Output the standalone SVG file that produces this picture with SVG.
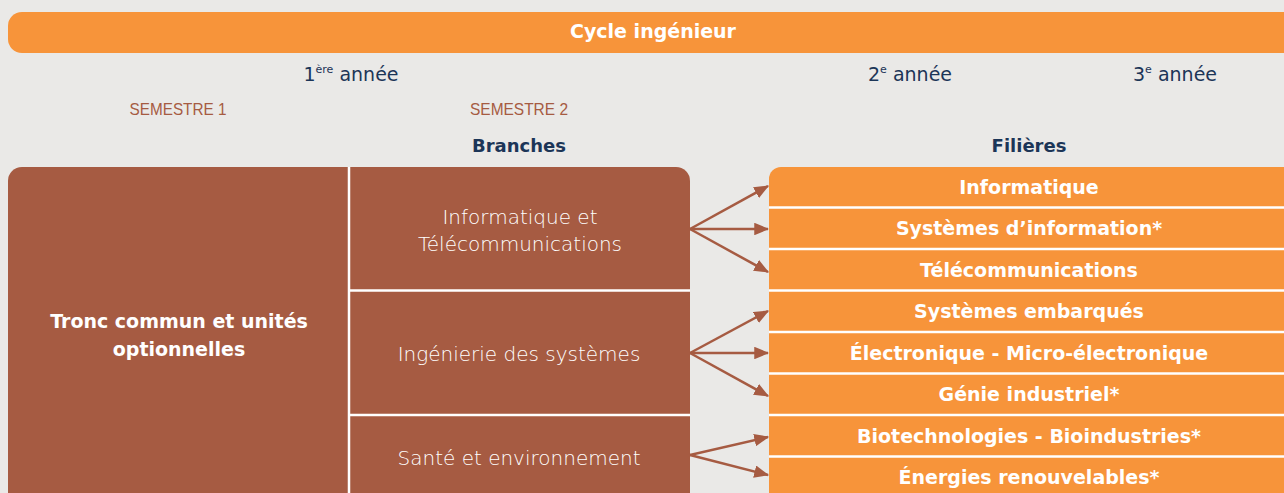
<svg xmlns="http://www.w3.org/2000/svg" width="1284" height="493" viewBox="0 0 1284 493">
<style>
.bg{fill:#EAE9E7}
.or{fill:#F7943A}
.br{fill:#A65B42}
.wl{stroke:#FFFFFF;stroke-width:2.5}
.t{font-family:"DejaVu Sans","Liberation Sans",Arial,sans-serif}
.wb{font-weight:bold;fill:#FFFFFF;font-size:19px;text-anchor:middle}
.wn{fill:#FFFFFF;font-size:20px;font-weight:300;text-anchor:middle}
.nv{fill:#1C3557;text-anchor:middle}
.sem{fill:#A65B42;font-size:17px;text-anchor:middle;font-family:"Liberation Sans",Arial,sans-serif}
.arr{stroke:#A65B42;stroke-width:2.5;fill:none;marker-end:url(#ah)}
</style>
<defs>
<marker id="ah" markerWidth="6" markerHeight="5" refX="5.5" refY="2.5" orient="auto" markerUnits="strokeWidth">
<path d="M0,0 L6,2.5 L0,5 Z" fill="#A65B42"/>
</marker>
</defs>
<rect class="bg" x="0" y="0" width="1284" height="493"/>

<g id="cycle">
<rect class="or" x="8" y="12" width="1300" height="41" rx="14"/>
<text class="t wb" x="653" y="38">Cycle ingénieur</text>
</g>

<g id="headers">
<text class="t nv" x="351" y="81" font-size="19">1<tspan font-size="11" dy="-8">ère</tspan><tspan dy="8"> année</tspan></text>
<text class="t nv" x="910" y="81" font-size="19">2<tspan font-size="11" dy="-8">e</tspan><tspan dy="8"> année</tspan></text>
<text class="t nv" x="1175" y="81" font-size="19">3<tspan font-size="11" dy="-8">e</tspan><tspan dy="8"> année</tspan></text>
<text class="sem" x="178" y="115" textLength="97" lengthAdjust="spacingAndGlyphs">SEMESTRE 1</text>
<text class="sem" x="519" y="115" textLength="98" lengthAdjust="spacingAndGlyphs">SEMESTRE 2</text>
<text class="t nv" x="519" y="152" font-size="18" font-weight="bold">Branches</text>
<text class="t nv" x="1029" y="152" font-size="18" font-weight="bold">Filières</text>
</g>

<g id="tronc">
<rect class="br" x="8" y="167" width="682" height="340" rx="14"/>
<text class="t wb" x="179" y="328">Tronc commun et unités</text>
<text class="t wb" x="179" y="356">optionnelles</text>
<line class="wl" x1="349" y1="167" x2="349" y2="493"/>
</g>

<g id="branche-info">
<text class="t wn" x="520" y="224">Informatique et</text>
<text class="t wn" x="520" y="251">Télécommunications</text>
</g>
<g id="branche-sys">
<line class="wl" x1="349" y1="290.5" x2="690" y2="290.5"/>
<text class="t wn" x="519" y="361">Ingénierie des systèmes</text>
</g>
<g id="branche-sante">
<line class="wl" x1="349" y1="415" x2="690" y2="415"/>
<text class="t wn" x="519" y="465">Santé et environnement</text>
</g>

<g id="filieres">
<rect class="or" x="769" y="167" width="530" height="340" rx="12"/>
<line class="wl" x1="769" y1="207.5" x2="1284" y2="207.5"/>
<line class="wl" x1="769" y1="249" x2="1284" y2="249"/>
<line class="wl" x1="769" y1="290.5" x2="1284" y2="290.5"/>
<line class="wl" x1="769" y1="332" x2="1284" y2="332"/>
<line class="wl" x1="769" y1="373.5" x2="1284" y2="373.5"/>
<line class="wl" x1="769" y1="415" x2="1284" y2="415"/>
<line class="wl" x1="769" y1="456.5" x2="1284" y2="456.5"/>
</g>
<g id="f1"><text class="t wb" x="1029" y="194">Informatique</text></g>
<g id="f2"><text class="t wb" x="1029" y="235">Systèmes d’information*</text></g>
<g id="f3"><text class="t wb" x="1029" y="277">Télécommunications</text></g>
<g id="f4"><text class="t wb" x="1029" y="318">Systèmes embarqués</text></g>
<g id="f5"><text class="t wb" x="1029" y="360">Électronique - Micro-électronique</text></g>
<g id="f6"><text class="t wb" x="1029" y="401">Génie industriel*</text></g>
<g id="f7"><text class="t wb" x="1029" y="443">Biotechnologies - Bioindustries*</text></g>
<g id="f8"><text class="t wb" x="1029" y="484">Énergies renouvelables*</text></g>

<g id="connectors">
<line class="arr" x1="690" y1="229" x2="768" y2="186"/>
<line class="arr" x1="690" y1="229" x2="768" y2="229"/>
<line class="arr" x1="690" y1="229" x2="768" y2="272"/>
<line class="arr" x1="690" y1="353" x2="768" y2="311"/>
<line class="arr" x1="690" y1="353" x2="768" y2="353"/>
<line class="arr" x1="690" y1="353" x2="768" y2="396"/>
<line class="arr" x1="690" y1="455" x2="768" y2="437"/>
<line class="arr" x1="690" y1="455" x2="768" y2="475"/>
</g>
</svg>
